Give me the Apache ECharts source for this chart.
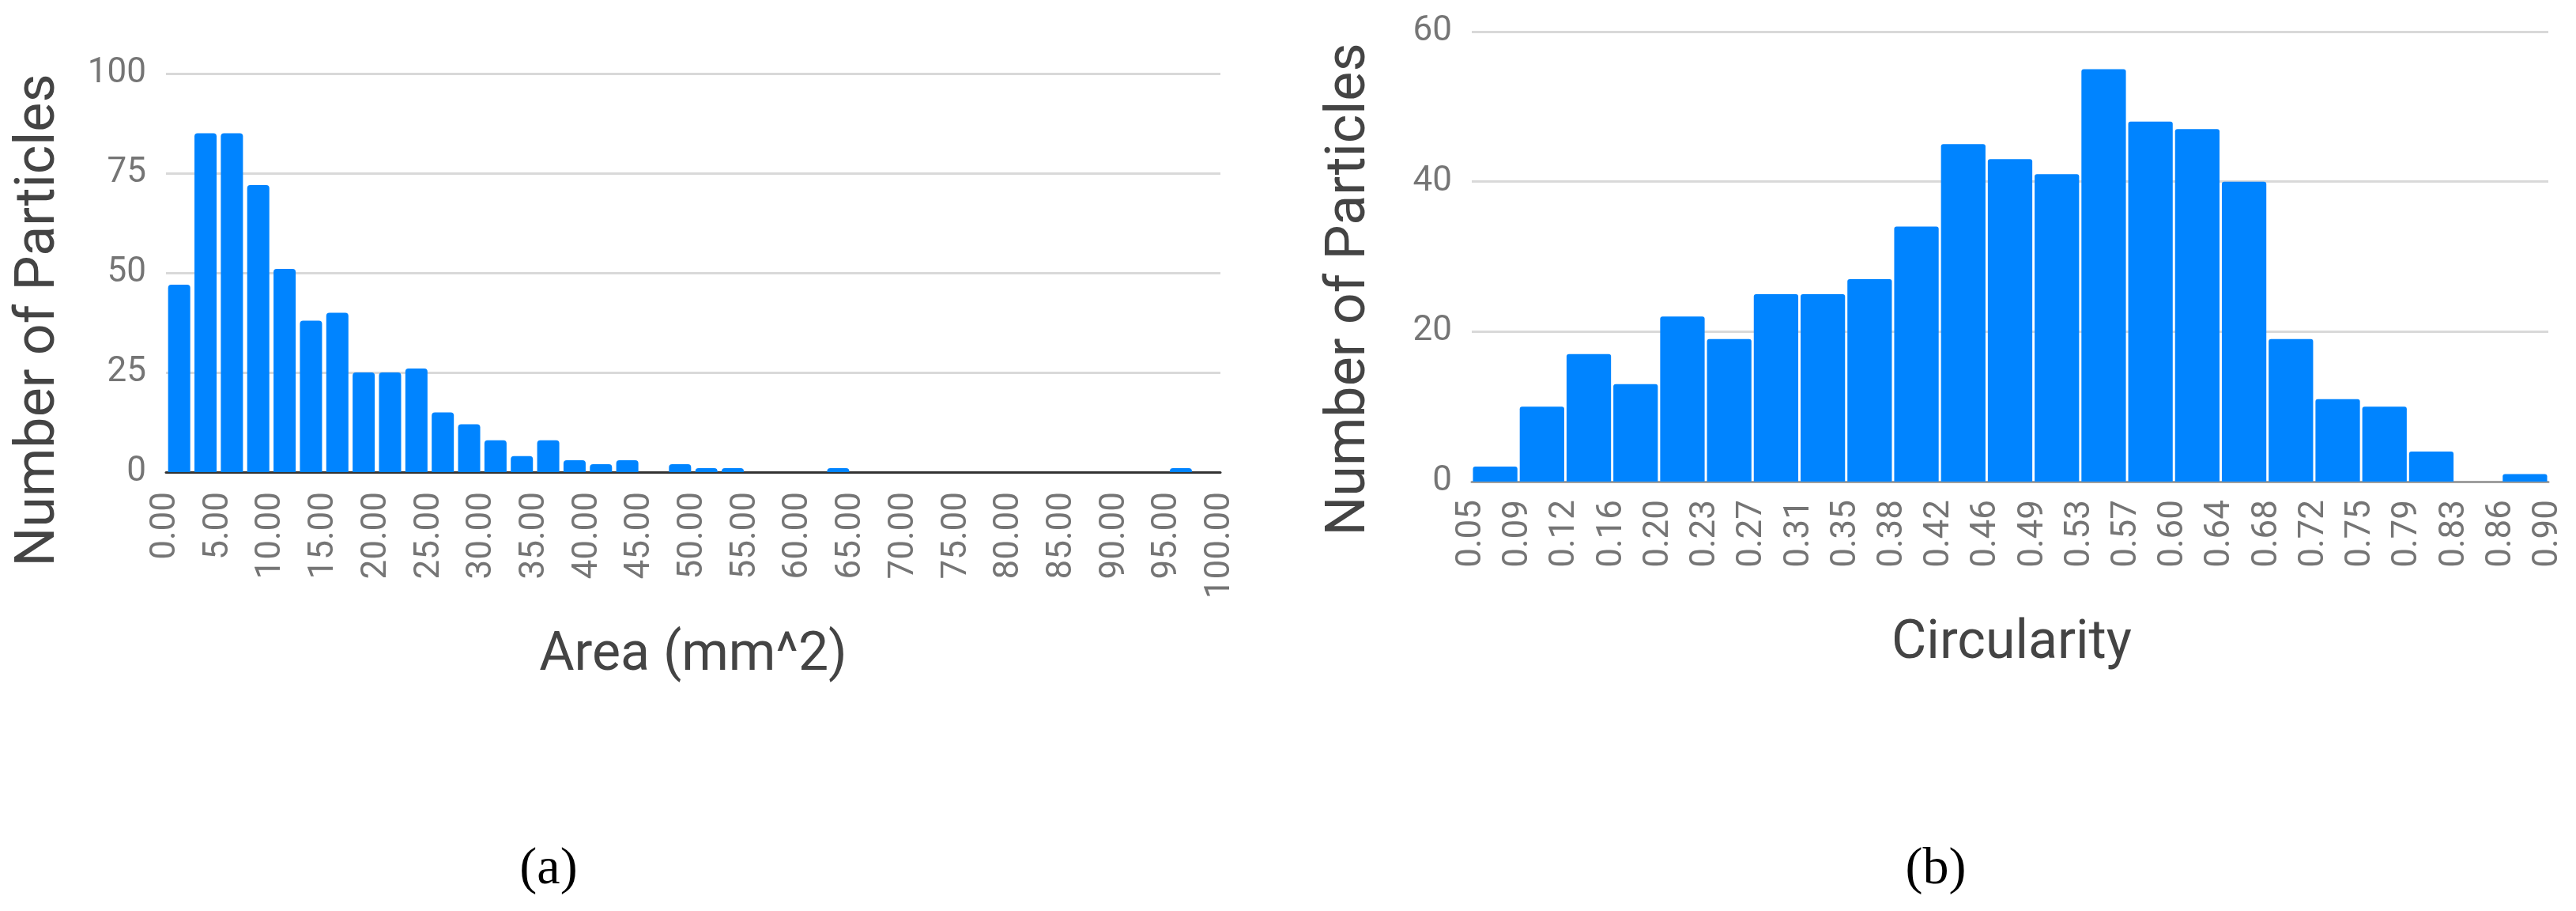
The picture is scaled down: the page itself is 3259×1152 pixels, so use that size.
<!DOCTYPE html>
<html>
<head>
<meta charset="utf-8">
<script src="https://cdn.jsdelivr.net/npm/echarts@6/dist/echarts.min.js"></script>
<style>
  html, body { margin: 0; padding: 0; background: #fff; }
  #main { width: 3259px; height: 1152px; }
</style>
</head>
<body>
<div id="main"></div>
<script>
// (a) area histogram, 40 bins of 2.5 mm^2
const areaCounts = [47, 85, 85, 72, 51, 38, 40, 25, 25, 26,
                    15, 12, 8, 4, 8, 3, 2, 3, 0, 2,
                    1, 1, 0, 0, 0, 1, 0, 0, 0, 0,
                    0, 0, 0, 0, 0, 0, 0, 0, 1, 0];
const areaTicks = ['0.00', '5.00', '10.00', '15.00', '20.00', '25.00', '30.00',
                   '35.00', '40.00', '45.00', '50.00', '55.00', '60.00', '65.00',
                   '70.00', '75.00', '80.00', '85.00', '90.00', '95.00', '100.00'];

// (b) circularity histogram, 23 bins
const circCounts = [2, 10, 17, 13, 22, 19, 25, 25, 27, 34, 45, 43,
                    41, 55, 48, 47, 40, 19, 11, 10, 4, 0, 1];
const circTicks = ['0.05', '0.09', '0.12', '0.16', '0.20', '0.23', '0.27', '0.31',
                   '0.35', '0.38', '0.42', '0.46', '0.49', '0.53', '0.57', '0.60',
                   '0.64', '0.68', '0.72', '0.75', '0.79', '0.83', '0.86', '0.90'];

const barBlue = '#0084ff';
const font = 'Roboto';

const chart = echarts.init(document.getElementById('main'));

const tickLabel = {
  fontFamily: font,
  fontSize: 44,
  color: '#757575'
};

const option = {
  animation: false,
  grid: [
    { left: 210, top: 93, width: 1334, height: 504 },
    { left: 1862, top: 40, width: 1362, height: 569 }
  ],
  xAxis: [
    {
      type: 'category', gridIndex: 0, show: false, position: 'bottom',
      data: areaCounts.map((c, i) => 'a' + i)
    },
    {
      type: 'value', gridIndex: 0, position: 'bottom',
      min: 0, max: 100, interval: 5,
      axisLine: { lineStyle: { color: '#333', width: 3 } },
      axisTick: { show: false },
      splitLine: { show: false },
      axisLabel: Object.assign({}, tickLabel, {
        rotate: 90, margin: 25,
        formatter: v => areaTicks[Math.round(v / 5)]
      })
    },
    {
      type: 'category', gridIndex: 1, show: false, position: 'bottom',
      data: circCounts.map((c, i) => 'c' + i)
    },
    {
      type: 'value', gridIndex: 1, position: 'bottom',
      min: 0, max: 23, interval: 1,
      axisLine: { lineStyle: { color: '#9e9e9e', width: 3 } },
      axisTick: { show: false },
      splitLine: { show: false },
      axisLabel: Object.assign({}, tickLabel, {
        rotate: 90, margin: 23,
        formatter: v => circTicks[Math.round(v)]
      })
    }
  ],
  yAxis: [
    {
      type: 'value', gridIndex: 0, min: 0, max: 100, interval: 25,
      axisLine: { show: false },
      axisTick: { show: false },
      splitLine: { lineStyle: { color: '#d9d9d9', width: 3 } },
      axisLabel: Object.assign({}, tickLabel, { margin: 25 })
    },
    {
      type: 'value', gridIndex: 1, min: 0, max: 60, interval: 20,
      axisLine: { show: false },
      axisTick: { show: false },
      splitLine: { lineStyle: { color: '#d9d9d9', width: 3 } },
      axisLabel: Object.assign({}, tickLabel, { margin: 25 })
    }
  ],
  series: [
    {
      type: 'bar', xAxisIndex: 0, yAxisIndex: 0,
      data: areaCounts,
      barCategoryGap: '16%',
      itemStyle: { color: barBlue, borderRadius: [4, 4, 0, 0] }
    },
    {
      type: 'bar', xAxisIndex: 2, yAxisIndex: 1,
      data: circCounts,
      barCategoryGap: '5%',
      itemStyle: { color: barBlue, borderRadius: [3, 3, 0, 0] }
    }
  ],
  graphic: [
    {
      type: 'text', x: 50, y: 405, rotation: Math.PI / 2,
      style: {
        text: 'Number of Particles', fontFamily: font, fontSize: 70,
        fill: '#444', align: 'center', verticalAlign: 'middle'
      }
    },
    {
      type: 'text', x: 1708, y: 366, rotation: Math.PI / 2,
      style: {
        text: 'Number of Particles', fontFamily: font, fontSize: 70,
        fill: '#444', align: 'center', verticalAlign: 'middle'
      }
    },
    {
      type: 'text', x: 877, y: 830,
      style: {
        text: 'Area (mm^2)', fontFamily: font, fontSize: 68,
        fill: '#444', align: 'center', verticalAlign: 'middle'
      }
    },
    {
      type: 'text', x: 2545, y: 815,
      style: {
        text: 'Circularity', fontFamily: font, fontSize: 68,
        fill: '#444', align: 'center', verticalAlign: 'middle'
      }
    },
    {
      type: 'text', x: 694, y: 1100,
      style: {
        text: '(a)', fontFamily: 'Liberation Serif', fontSize: 66,
        fill: '#000', align: 'center', verticalAlign: 'middle'
      }
    },
    {
      type: 'text', x: 2449, y: 1100,
      style: {
        text: '(b)', fontFamily: 'Liberation Serif', fontSize: 66,
        fill: '#000', align: 'center', verticalAlign: 'middle'
      }
    }
  ]
};

chart.setOption(option);
</script>
</body>
</html>
